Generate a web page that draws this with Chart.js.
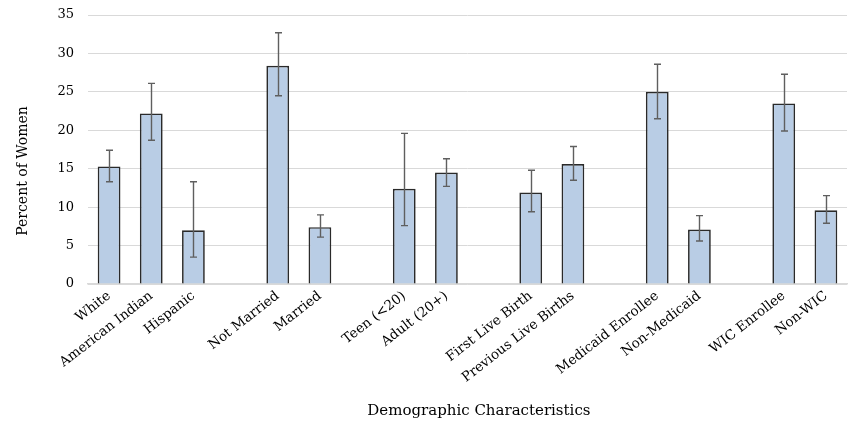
<!DOCTYPE html>
<html>
<head>
<meta charset="utf-8">
<script src="https://cdn.jsdelivr.net/npm/chart.js@4/dist/chart.umd.min.js"></script>
<style>
html,body{margin:0;padding:0;background:#fff;}
#wrap{width:851px;height:423px;position:relative;}
</style>
</head>
<body>
<div id="wrap"><canvas id="c" width="851" height="423"></canvas></div>
<script>
const categories = ["White","American Indian","Hispanic","","Not Married","Married","","Teen (<20)","Adult (20+)","","First Live Birth","Previous Live Births","","Medicaid Enrollee","Non-Medicaid","","WIC Enrollee","Non-WIC"];
const percentValues = [15.3,22.2,7.0,null,28.4,7.4,null,12.4,14.5,null,11.9,15.6,null,25.0,7.1,null,23.5,9.6];
const errorLow = [13.3,18.7,3.5,null,24.5,6.1,null,7.6,12.7,null,9.4,13.5,null,21.5,5.6,null,19.9,7.9];
const errorHigh = [17.4,26.1,13.3,null,32.7,9.0,null,19.6,16.3,null,14.8,17.9,null,28.6,8.9,null,27.3,11.5];
const yTicks = [0,5,10,15,20,25,30,35];
const xTitle = 'Demographic Characteristics';
const yTitle = 'Percent of Women';

const FONT = "'DejaVu Serif', 'Liberation Serif', serif";

const errorBars = {
  id: 'errorBars',
  afterDatasetsDraw(chart) {
    const ctx = chart.ctx;
    const meta = chart.getDatasetMeta(0);
    const ys = chart.scales.y;
    ctx.save();
    ctx.strokeStyle = '#5f5f5f';
    ctx.lineWidth = 1.4;
    meta.data.forEach((bar, i) => {
      if (errorLow[i] == null || errorHigh[i] == null) return;
      const x = Math.round(bar.x) + 0.5;
      const y1 = ys.getPixelForValue(errorHigh[i]);
      const y2 = ys.getPixelForValue(errorLow[i]);
      ctx.beginPath();
      ctx.moveTo(x, y1); ctx.lineTo(x, y2);
      ctx.moveTo(x - 3.5, y1); ctx.lineTo(x + 3.5, y1);
      ctx.moveTo(x - 3.5, y2); ctx.lineTo(x + 3.5, y2);
      ctx.stroke();
    });
    ctx.restore();
  }
};

const axisTitles = {
  id: 'axisTitles',
  afterDraw(chart) {
    const ctx = chart.ctx;
    const area = chart.chartArea;
    ctx.save();
    ctx.fillStyle = '#000';
    ctx.textAlign = 'center';
    ctx.textBaseline = 'middle';
    ctx.font = "15px " + FONT;
    ctx.fillText(xTitle, area.left + (area.right - area.left) * 0.515, 411);
    ctx.font = "14px " + FONT;
    ctx.translate(23, area.top + (area.bottom - area.top) * 0.58);
    ctx.rotate(-Math.PI / 2);
    ctx.fillText(yTitle, 0, 0);
    ctx.restore();
  }
};

new Chart(document.getElementById('c'), {
  type: 'bar',
  data: {
    labels: categories,
    datasets: [{
      data: percentValues,
      backgroundColor: '#b9cde5',
      borderColor: '#2a2a2a',
      borderWidth: 1.7,
      categoryPercentage: 1.0,
      barPercentage: 0.54
    }]
  },
  plugins: [errorBars, axisTitles],
  options: {
    responsive: false,
    animation: false,
    devicePixelRatio: 1,
    layout: { padding: { top: 15, right: 4, bottom: 0, left: 0 } },
    plugins: { legend: { display: false }, tooltip: { enabled: false } },
    scales: {
      x: {
        grid: { display: false, drawTicks: false },
        border: { display: true, color: '#d9d9d9', width: 1.5 },
        ticks: {
          color: '#000', font: { family: FONT, size: 13.5 },
          minRotation: 38, maxRotation: 38, autoSkip: false, padding: 4
        },
        afterFit(scale) { scale.height = 139; }
      },
      y: {
        min: 0, max: 35,
        afterBuildTicks(scale) { scale.ticks = yTicks.map(v => ({ value: v })); },
        grid: { color: '#d9d9d9', lineWidth: 1, drawTicks: true, tickLength: 12, tickColor: 'rgba(0,0,0,0)' },
        border: { display: false },
        ticks: { color: '#000', font: { family: FONT, size: 13 }, padding: 2 },
        afterFit(scale) { scale.width = 88; }
      }
    }
  }
});
</script>
</body>
</html>
